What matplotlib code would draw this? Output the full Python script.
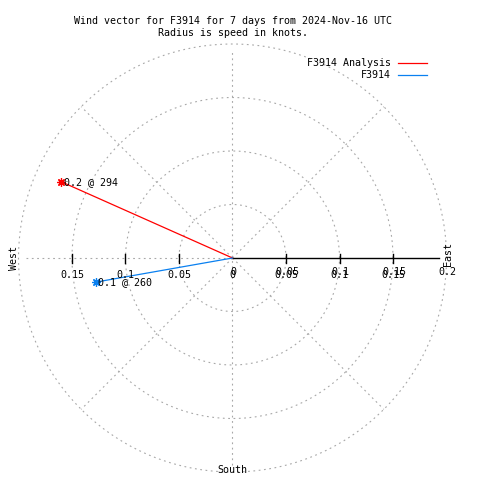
import numpy as np
import matplotlib
matplotlib.use('Agg')
import matplotlib.pyplot as plt
from matplotlib.lines import Line2D

# wind vectors (knots, compass direction the vector points to)
names     =['F3914 Analysis', 'F3914']
speeds    =[0.175, 0.130]
directions=[294, 260]
colors    =['#ff0000', '#0a80f0']

ring_radii=[0.05, 0.10, 0.15, 0.20]
spoke_deg =[45, 135, 225, 315]
r_ticks   =[0, 0.05, 0.1, 0.15, 0.2]
x_ticks   =[-0.15, -0.1, -0.05, 0, 0.05, 0.1, 0.15]

title1='Wind vector for F3914 for 7 days from 2024-Nov-16 UTC'
title2='Radius is speed in knots.'

W, H   =480, 480
cx, cy =232.5, 258.0   # pixel position of the origin (from top left)
scale  =1070.0          # pixels per knot
r_axis =0.193           # extent of the x/y zero axes

plt.rcParams['font.family']='DejaVu Sans Mono'
fs=7.2
grid_kw=dict(color='#a8a8a8', lw=0.8, ls=(0, (1.6, 3.2)))

fig=plt.figure(figsize=(W/100, H/100), dpi=100)
ax =fig.add_axes([0, 0, 1, 1])
ax.set_xlim(-cx/scale, (W-cx)/scale)
ax.set_ylim(-(H-cy)/scale, cy/scale)
ax.axis('off')

def px(dx=0, dy=0):
    # pixel offset -> data units
    return dx/scale, -dy/scale

# grid circles
th=np.linspace(0, 2*np.pi, 400)
for r in ring_radii:
    ax.plot(r*np.cos(th), r*np.sin(th), **grid_kw)

# diagonal spokes
for d in spoke_deg:
    a=np.radians(90-d)
    ax.plot([0, ring_radii[-1]*np.cos(a)], [0, ring_radii[-1]*np.sin(a)], **grid_kw)

# zero axes
ax.plot([-r_axis, 0], [0, 0], **grid_kw)
ax.plot([0, 0], [-r_axis, r_axis], **grid_kw)
ax.plot([0, r_axis], [0, 0], color='black', lw=1.0)

# tick marks on the horizontal axis
for t in x_ticks:
    if t==0:
        continue
    ax.plot([t, t], [px(dy=-4)[1], px(dy=5)[1]], color='black', lw=1.0)

# tick labels: x axis row and r axis row (gnuplot draws both, overlapping)
for t in x_ticks:
    ax.text(t, px(dy=17.5)[1], '%g' % abs(t), fontsize=fs, ha='center', va='center')
for t in r_ticks:
    ax.text(t+px(dx=1)[0], px(dy=14)[1], '%g' % t, fontsize=fs, ha='center', va='center')

# compass labels
ax.text(px(dx=-218.5)[0], 0, 'West', fontsize=fs, rotation=90, ha='center', va='center')
ax.text(px(dx=216)[0], px(dy=-4)[1], 'East', fontsize=fs, rotation=90, ha='center', va='center')
ax.text(0, px(dy=212)[1], 'South', fontsize=fs, ha='center', va='center')

# vectors
for name, spd, d, c in zip(names, speeds, directions, colors):
    a=np.radians(90-d)
    x, y=spd*np.cos(a), spd*np.sin(a)
    ax.plot([0, x], [0, y], color=c, lw=0.9)
    ax.plot(x, y, marker=(8, 2, 0), ms=6, color=c, mew=0.9)
    ax.annotate('%.1f @ %d' % (spd, d), (x, y), xytext=(1.5, 0), textcoords='offset points',
                fontsize=fs, ha='left', va='center')

# title
fig.text(cx/W, 1-20.5/H, title1, fontsize=fs, ha='center', va='center')
fig.text(cx/W, 1-33/H, title2, fontsize=fs, ha='center', va='center')

# legend
for i, (name, c) in enumerate(zip(names, colors)):
    yy=1-(62.5+12.5*i)/H
    fig.text(391/W, yy, name, fontsize=fs, ha='right', va='center')
    fig.add_artist(Line2D([398/W, 427/W], [yy, yy], color=c, lw=0.9, transform=fig.transFigure))

fig.savefig('out.png', dpi=100)
